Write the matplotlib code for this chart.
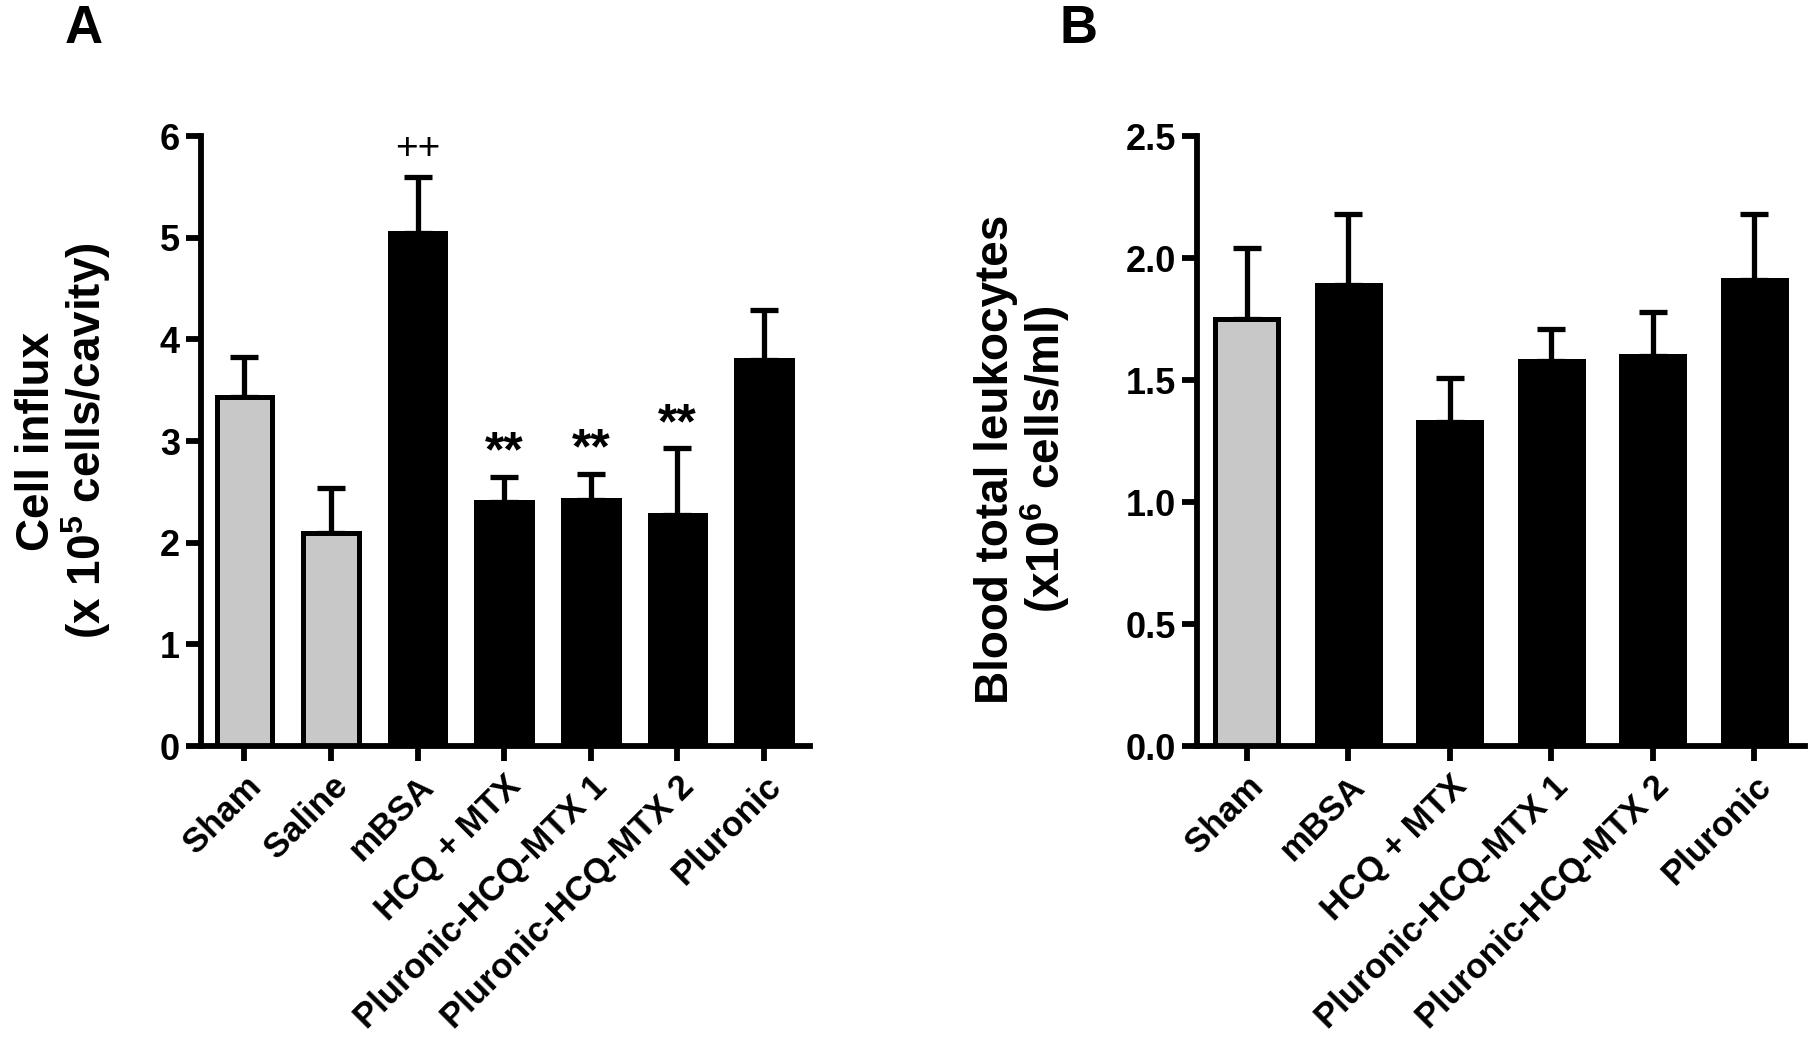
import matplotlib
matplotlib.use("Agg")
import matplotlib.pyplot as plt
from matplotlib.ticker import FormatStrFormatter

plt.rcParams['font.family'] = ['Liberation Sans', 'DejaVu Sans']
plt.rcParams['font.weight'] = 'bold'
plt.rcParams['mathtext.fontset'] = 'custom'
plt.rcParams['mathtext.rm'] = 'Liberation Sans:bold'
plt.rcParams['mathtext.bf'] = 'Liberation Sans:bold'

# panel A - cell influx in the cavity
groups_a = ["Sham", "Saline", "mBSA", "HCQ + MTX",
            "Pluronic-HCQ-MTX 1", "Pluronic-HCQ-MTX 2", "Pluronic"]
influx_mean = [3.43, 2.10, 5.05, 2.40, 2.42, 2.27, 3.80]
influx_sem = [0.40, 0.44, 0.55, 0.25, 0.26, 0.66, 0.49]
influx_marks = ["", "", "++", "**", "**", "**", ""]

# panel B - blood leukocytes
groups_b = ["Sham", "mBSA", "HCQ + MTX",
            "Pluronic-HCQ-MTX 1", "Pluronic-HCQ-MTX 2", "Pluronic"]
leuko_mean = [1.75, 1.89, 1.33, 1.58, 1.60, 1.91]
leuko_sem = [0.29, 0.29, 0.18, 0.13, 0.18, 0.27]

GRAY = "#c8c8c8"


def draw_bars(ax, names, means, sems, n_gray, width):
    x = list(range(len(names)))
    colors = [GRAY] * n_gray + ["black"] * (len(names) - n_gray)
    ax.errorbar(x, means, yerr=[[0] * len(sems), sems], fmt="none",
                ecolor="black", elinewidth=3.8, capsize=10, capthick=3.8,
                zorder=1)
    ax.bar(x, means, width=width, color=colors, edgecolor="black",
           linewidth=3.6, zorder=2)
    ax.spines["top"].set_visible(False)
    ax.spines["right"].set_visible(False)
    ax.spines["left"].set_linewidth(4.2)
    ax.spines["bottom"].set_linewidth(4.2)
    ax.tick_params(axis="both", direction="out", length=11, width=4.2)
    ax.tick_params(axis="y", labelsize=26, pad=4)
    ax.set_xticks(x)
    ax.set_xticklabels(names, rotation=45, ha="right",
                       rotation_mode="anchor", fontweight="bold",
                       fontsize=25)
    ax.tick_params(axis="x", pad=6)
    for lab in ax.get_yticklabels():
        lab.set_fontweight("bold")
    return x


fig = plt.figure(figsize=(18.12, 10.39), dpi=100)

ax_a = fig.add_axes([0.1109, 0.282, 0.3361, 0.587])
xa = draw_bars(ax_a, groups_a, influx_mean, influx_sem, 2, 0.64)
ax_a.set_xlim(-0.5, 6.53)
ax_a.set_ylim(0, 6)
ax_a.set_yticks(range(0, 7))
for xi, m, s, mark in zip(xa, influx_mean, influx_sem, influx_marks):
    if mark == "++":
        ax_a.text(xi, m + s + 0.1, mark, ha="center", va="bottom",
                  fontsize=28, fontweight="normal")
    elif mark:
        ax_a.text(xi, m + s + 0.0, mark, ha="center", va="bottom",
                  fontsize=36, fontweight="bold")
ax_a.set_ylabel("Cell influx\n(x 10$^{5}$ cells/cavity)", fontsize=33,
                fontweight="bold", linespacing=1.0)
ax_a.yaxis.set_label_coords(-0.145, 0.5)

ax_b = fig.add_axes([0.6606, 0.282, 0.3355, 0.587])
draw_bars(ax_b, groups_b, leuko_mean, leuko_sem, 1, 0.62)
ax_b.set_xlim(-0.49, 5.5)
ax_b.set_ylim(0, 2.5)
ax_b.set_yticks([0, 0.5, 1.0, 1.5, 2.0, 2.5])
ax_b.yaxis.set_major_formatter(FormatStrFormatter("%.1f"))
for lab in ax_b.get_yticklabels():
    lab.set_fontweight("bold")
ax_b.set_ylabel("Blood total leukocytes\n(x10$^{6}$ cells/ml)", fontsize=33,
                fontweight="bold", linespacing=1.0)
ax_b.yaxis.set_label_coords(-0.205, 0.47)

fig.text(0.046, 0.972, "A", fontsize=38, fontweight="bold",
         ha="center", va="center")
fig.text(0.595, 0.972, "B", fontsize=38, fontweight="bold",
         ha="center", va="center")

fig.savefig("out.png", dpi=100)
